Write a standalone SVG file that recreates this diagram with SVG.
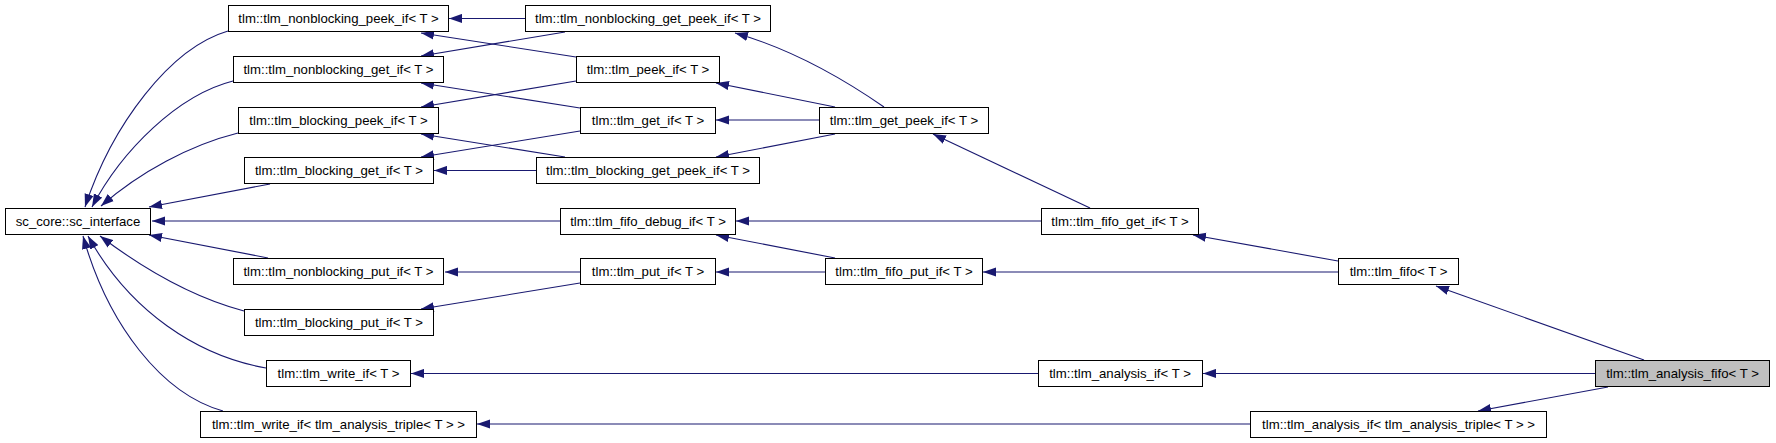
<svg xmlns="http://www.w3.org/2000/svg" width="1776" height="443" viewBox="0 0 1776 443">
<defs>
<style>
.n rect{fill:#fff;stroke:#000;stroke-width:1}
.n.hl rect{fill:#bfbfbf}
.n text{font-family:"Liberation Sans",Arial,sans-serif;font-size:13.2px;fill:#000;text-anchor:middle}
#edges path{fill:none;stroke:#191970;stroke-width:1.1;marker-end:url(#arr)}
</style>
<marker id="arr" markerUnits="userSpaceOnUse" markerWidth="14" markerHeight="10" viewBox="0 0 14 10" refX="13" refY="5" orient="auto">
<path d="M0,0.4 L13,5 L0,9.6 z" fill="#191970"/>
</marker>
</defs>
<rect width="1776" height="443" fill="#fff"/>
<g id="edges">
<path d="M228,31 C170,48 112,125 85,207"/>
<path d="M233,81 C178,95 122,150 92,207"/>
<path d="M238,133 C190,145 140,172 101,206"/>
<path d="M270,184 L149,207"/>
<path d="M560,221 L152,221"/>
<path d="M268,258 L149,235"/>
<path d="M244,311 C195,298 145,270 100,236"/>
<path d="M266,368 C198,356 130,312 88,236"/>
<path d="M223,411 C162,394 108,325 83,236"/>
<path d="M525,18.5 L449,18.5"/>
<path d="M565,32 L421,56"/>
<path d="M576,57 L421,33"/>
<path d="M576,81 L421,107"/>
<path d="M580,108 L421,83"/>
<path d="M580,131 L421,157"/>
<path d="M565,157 L421,134"/>
<path d="M536,170.5 L434,170.5"/>
<path d="M884,107 C845,80 795,50 735,33"/>
<path d="M835,107 L716,83"/>
<path d="M819,120 L716,120"/>
<path d="M835,134 L716,157"/>
<path d="M835,258 L716,235"/>
<path d="M580,272 L445,272"/>
<path d="M580,283 L421,309"/>
<path d="M825,272 L716,272"/>
<path d="M1041,221 L736,221"/>
<path d="M1090,208 L933,134"/>
<path d="M1338,261 L1193,235"/>
<path d="M1338,272 L983,272"/>
<path d="M1644,360 L1436,286"/>
<path d="M1595,373.5 L1203,373.5"/>
<path d="M1608,387 L1478,411"/>
<path d="M1038,373.5 L411,373.5"/>
<path d="M1250,424 L477,424"/>
</g>
<g id="sc_interface" class="n"><rect x="5.5" y="208.5" width="145" height="26"/><text x="78" y="226">sc_core::sc_interface</text></g>
<g id="nonblocking_peek_if" class="n"><rect x="228.5" y="5.5" width="220" height="26"/><text x="338.5" y="23">tlm::tlm_nonblocking_peek_if&lt; T &gt;</text></g>
<g id="nonblocking_get_if" class="n"><rect x="233.5" y="56.5" width="210" height="26"/><text x="338.5" y="74">tlm::tlm_nonblocking_get_if&lt; T &gt;</text></g>
<g id="blocking_peek_if" class="n"><rect x="238.5" y="107.5" width="200" height="26"/><text x="338.5" y="125">tlm::tlm_blocking_peek_if&lt; T &gt;</text></g>
<g id="blocking_get_if" class="n"><rect x="244.5" y="157.5" width="189" height="26"/><text x="339" y="175">tlm::tlm_blocking_get_if&lt; T &gt;</text></g>
<g id="nonblocking_put_if" class="n"><rect x="233.5" y="258.5" width="210" height="26"/><text x="338.5" y="276">tlm::tlm_nonblocking_put_if&lt; T &gt;</text></g>
<g id="blocking_put_if" class="n"><rect x="244.5" y="309.5" width="189" height="26"/><text x="339" y="327">tlm::tlm_blocking_put_if&lt; T &gt;</text></g>
<g id="write_if" class="n"><rect x="266.5" y="360.5" width="144" height="26"/><text x="338.5" y="378">tlm::tlm_write_if&lt; T &gt;</text></g>
<g id="write_if_triple" class="n"><rect x="200.5" y="411.5" width="276" height="26"/><text x="338.5" y="429">tlm::tlm_write_if&lt; tlm_analysis_triple&lt; T &gt; &gt;</text></g>
<g id="nonblocking_get_peek_if" class="n"><rect x="525.5" y="5.5" width="245" height="26"/><text x="648" y="23">tlm::tlm_nonblocking_get_peek_if&lt; T &gt;</text></g>
<g id="peek_if" class="n"><rect x="576.5" y="56.5" width="143" height="26"/><text x="648" y="74">tlm::tlm_peek_if&lt; T &gt;</text></g>
<g id="get_if" class="n"><rect x="580.5" y="107.5" width="135" height="26"/><text x="648" y="125">tlm::tlm_get_if&lt; T &gt;</text></g>
<g id="blocking_get_peek_if" class="n"><rect x="536.5" y="157.5" width="223" height="26"/><text x="648" y="175">tlm::tlm_blocking_get_peek_if&lt; T &gt;</text></g>
<g id="fifo_debug_if" class="n"><rect x="560.5" y="208.5" width="175" height="26"/><text x="648" y="226">tlm::tlm_fifo_debug_if&lt; T &gt;</text></g>
<g id="put_if" class="n"><rect x="580.5" y="258.5" width="135" height="26"/><text x="648" y="276">tlm::tlm_put_if&lt; T &gt;</text></g>
<g id="get_peek_if" class="n"><rect x="819.5" y="107.5" width="169" height="26"/><text x="904" y="125">tlm::tlm_get_peek_if&lt; T &gt;</text></g>
<g id="fifo_put_if" class="n"><rect x="825.5" y="258.5" width="157" height="26"/><text x="904" y="276">tlm::tlm_fifo_put_if&lt; T &gt;</text></g>
<g id="fifo_get_if" class="n"><rect x="1041.5" y="208.5" width="157" height="26"/><text x="1120" y="226">tlm::tlm_fifo_get_if&lt; T &gt;</text></g>
<g id="analysis_if" class="n"><rect x="1038.5" y="360.5" width="164" height="26"/><text x="1120" y="378">tlm::tlm_analysis_if&lt; T &gt;</text></g>
<g id="tlm_fifo" class="n"><rect x="1338.5" y="258.5" width="120" height="26"/><text x="1398.5" y="276">tlm::tlm_fifo&lt; T &gt;</text></g>
<g id="analysis_if_triple" class="n"><rect x="1250.5" y="411.5" width="296" height="26"/><text x="1398.5" y="429">tlm::tlm_analysis_if&lt; tlm_analysis_triple&lt; T &gt; &gt;</text></g>
<g id="analysis_fifo" class="n hl"><rect x="1595.5" y="360.5" width="174" height="26"/><text x="1682.5" y="378">tlm::tlm_analysis_fifo&lt; T &gt;</text></g>
</svg>
